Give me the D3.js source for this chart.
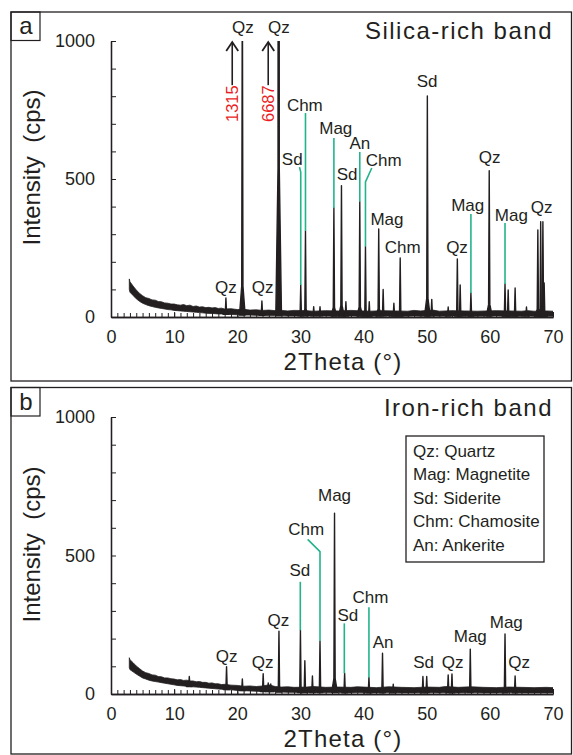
<!DOCTYPE html>
<html>
<head>
<meta charset="utf-8">
<script src="https://cdn.jsdelivr.net/npm/d3@7"></script>
<style>
body { margin: 0; background: #fff; }
text { font-family: "Liberation Sans", Arial, sans-serif; fill: #231f20; }
</style>
</head>
<body>
<div id="chart"></div>
<script>
// 2theta axis and intensity axis
var thetaTicks = [0, 10, 20, 30, 40, 50, 60, 70];
var intensityLabels = [0, 500, 1000];
var legendItems = ["Qz: Quartz", "Mag: Magnetite", "Sd: Siderite", "Chm: Chamosite", "An: Ankerite"];

// panel a: background band [2theta, low, high] in cps
var bgA = [[2.9,100,138],[3.0,90,128],[3.5,78,112],[4.0,66,98],[4.5,57,86],[5.0,50,77],[5.5,45,70],[6.0,41,67],
  [6.5,38,62],[7.0,35,61],[7.5,33,56],[8.0,31,55],[8.5,29,51],[9.0,27,50],[9.5,26,47],[10.0,24,47],[10.5,23,44],
  [11.0,22,43],[11.5,21,45],[12.0,20,41],[12.5,19,43],[13.0,18,38],[13.5,17,40],[14.0,16,36],[14.5,15,37],
  [15.0,14,34],[15.5,13,35],[16.0,13,33],[16.5,12,34],[17.0,11,31],[17.5,11,32],[18.0,10,29],[19.0,9,30],
  [20.0,8,27],[21.0,7,28],[22.0,7,25],[23.0,6,26],[24.0,6,24],[25.0,5,25],[26.0,5,23],[27.0,5,24],[28.0,4,22],
  [29.0,4,24],[31.0,4,23],[32.0,4,21],[34.0,4,23],[36.0,3,22],[38.0,4,24],[41.0,3,21],[43.0,4,23],[45.0,3,22],
  [47.0,3,21],[48.0,4,24],[49.0,3,22],[51.0,4,25],[52.0,3,21],[54.0,4,23],[56.0,3,22],[58.0,3,21],[61.0,4,23],
  [63.0,3,22],[65.0,3,21],[66.0,4,23],[67.0,3,21],[69.0,3,22],[70.0,3,21]];
// panel a: peaks [2theta, cps]
var peaksA = [[18.2,69],[20.8,1315],[23.9,58],[26.55,6687],[30.05,116],[30.8,312],[32.1,37],[33.1,37],
  [35.3,395],[36.5,476],[37.2,55],[39.4,418],[40.3,255],[40.9,55],[42.4,319],[43.1,100],[44.8,50],[45.8,214],
  [50.1,801],[50.8,64],[53.4,36],[54.85,210],[55.3,116],[57.0,87],[59.9,530],[62.4,120],[62.9,98],[64.0,105],
  [65.8,36],[67.6,315],[68.05,345],[68.4,345],[68.6,123]];
// panel a: labels [text, 2theta, cps]
var labelsA = [["Qz",20.9,1029],["Qz",26.6,1029],["Qz",18.2,87],["Qz",24.0,87],["Sd",28.7,551],["Chm",30.7,746],
  ["Mag",35.6,663],["An",39.4,609],["Sd",37.4,496],["Chm",43.2,547],["Mag",43.7,333],["Chm",46.2,233],
  ["Sd",50.05,833],["Qz",54.8,233],["Mag",56.5,385],["Qz",59.95,559],["Mag",63.4,348],["Qz",68.2,377]];
var leadersA = [[[29.85,543],[30.05,525],[30.05,116]], [[30.8,739],[30.8,312]], [[35.3,649],[35.3,395]],
  [[39.4,598],[39.4,418]], [[41.3,540],[40.3,489],[40.3,255]], [[57.0,373],[57.0,87]], [[62.4,341],[62.4,120]]];
var arrowsA = [[19.2,"1315"],[24.9,"6687"]];

// panel b
var bgB = [[2.9,95,131],[3.0,88,124],[3.5,80,113],[4.0,72,101],[4.5,65,92],[5.0,58,83],[5.5,54,77],[6.0,50,74],
  [6.5,47,69],[7.0,45,68],[7.5,43,63],[8.0,41,62],[8.5,39,58],[9.0,37,58],[9.5,35,55],[10.0,33,54],[10.5,31,51],
  [11.0,30,52],[11.5,29,49],[12.0,28,50],[12.5,27,47],[13.0,26,47],[13.5,25,44],[14.0,24,45],[14.5,23,42],
  [15.0,22,42],[15.5,21,39],[16.0,20,40],[16.5,19,37],[17.0,18,37],[17.5,17,34],[18.0,16,35],[19.0,15,32],
  [20.0,13,31],[21.0,12,28],[22.0,11,29],[23.0,10,27],[24.0,9,29],[25.0,9,33],[26.0,8,27],[27.0,7,25],[28.0,6,26],
  [29.0,6,24],[31.0,5,25],[32.0,5,27],[34.0,5,24],[36.0,5,25],[38.0,4,24],[39.0,5,26],[41.0,4,24],[42.0,4,23],
  [44.0,5,26],[46.0,4,24],[48.0,4,23],[50.0,5,25],[52.0,4,24],[53.0,5,27],[55.0,4,24],[57.0,5,26],[59.0,4,24],
  [61.0,4,23],[63.0,5,25],[65.0,4,24],[67.0,4,23],[69.0,4,24],[70.0,4,23]];
var peaksB = [[12.4,63],[18.3,99],[20.8,54],[24.1,73],[24.9,40],[25.3,36],[26.6,227],[30.0,230],[30.7,120],
  [31.9,65],[33.1,191],[35.4,653],[37.0,75],[40.85,60],[43.0,147],[44.7,35],[49.4,63],[50.0,63],[53.4,69],
  [54.0,72],[56.9,162],[62.4,217],[64.0,65]];
var labelsB = [["Qz",18.3,117],["Qz",24.0,93],["Qz",26.5,247],["Sd",29.9,427],["Chm",30.9,574],["Mag",35.4,698],
  ["Sd",37.5,265],["Chm",41.1,330],["An",43.1,165],["Sd",49.5,95],["Qz",54.1,95],["Mag",56.9,189],
  ["Mag",62.6,237],["Qz",64.65,95]];
var leadersB = [[[29.98,405],[29.98,230]], [[31.15,558],[33.1,514],[33.1,191]], [[36.95,255],[36.95,75]],
  [[40.85,313],[40.85,60]]];

var ink = "#231f20", green = "#22b38b", red = "#ec1c24";

var svg = d3.select("#chart").append("svg")
    .attr("width", 573)
    .attr("height", 755);

var x = d3.scaleLinear().domain([0, 70]).range([111, 553]);

var panels = [
    { id: "a", letter: "a", title: "Silica-rich band", top: 12, bottom: 381, y0: 317, y1: 41, titleY: 39,
      yTitle: 167.5, bg: bgA, peaks: peaksA, labels: labelsA, leaders: leadersA, arrows: arrowsA },
    { id: "b", letter: "b", title: "Iron-rich band", top: 387.5, bottom: 754, y0: 694, y1: 417, titleY: 416,
      yTitle: 544.5, bg: bgB, peaks: peaksB, labels: labelsB, leaders: leadersB, arrows: [] }
];

panels.forEach(function (p) {
    var y = d3.scaleLinear().domain([0, 1000]).range([p.y0, p.y1]);
    var g = svg.append("g");

    // frame and letter box
    g.append("rect")
        .attr("x", 11).attr("y", p.top)
        .attr("width", 560.5).attr("height", p.bottom - p.top)
        .attr("fill", "none").attr("stroke", ink).attr("stroke-width", 1.3);
    g.append("rect")
        .attr("x", 11).attr("y", p.top)
        .attr("width", 29).attr("height", 28.5)
        .attr("fill", "none").attr("stroke", ink).attr("stroke-width", 1.2);
    g.append("text")
        .attr("x", 26).attr("y", p.top + 22)
        .attr("text-anchor", "middle")
        .attr("font-size", 24)
        .text(p.letter);

    g.append("text")
        .attr("x", 553).attr("y", p.titleY)
        .attr("text-anchor", "end")
        .attr("font-size", 24)
        .attr("letter-spacing", 1.5)
        .text(p.title);

    // spectrum, clipped at 1000 cps
    svg.append("clipPath").attr("id", "clip" + p.id)
        .append("rect")
        .attr("x", x(0)).attr("y", y(1000))
        .attr("width", x(70) - x(0)).attr("height", y(0) - y(1000) + 2);
    var plot = g.append("g").attr("clip-path", "url(#clip" + p.id + ")");

    var base = d3.scaleLinear()
        .domain(p.bg.map(function (d) { return d[0]; }))
        .range(p.bg.map(function (d) { return d[1]; }))
        .clamp(true);

    plot.append("path")
        .datum(p.bg)
        .attr("d", d3.area()
            .x(function (d) { return x(d[0]); })
            .y0(function (d) { return y(d[1]); })
            .y1(function (d) { return y(d[2]); }))
        .attr("fill", ink)
        .attr("stroke", ink)
        .attr("stroke-width", 0.8);

    plot.selectAll("path.peak")
        .data(p.peaks)
        .join("path")
        .attr("class", "peak")
        .attr("d", function (d) {
            var b = base(d[0]);
            var mid = b + (d[1] - b) * 0.08;
            return "M" + x(d[0] - 0.45) + "," + y(b) +
                "L" + x(d[0] - 0.1) + "," + y(mid) +
                "L" + x(d[0]) + "," + y(d[1]) +
                "L" + x(d[0] + 0.1) + "," + y(mid) +
                "L" + x(d[0] + 0.45) + "," + y(b) + "Z";
        })
        .attr("fill", ink)
        .attr("stroke", ink)
        .attr("stroke-width", 1.4)
        .attr("stroke-linejoin", "round");

    // green leader lines
    var line = d3.line()
        .x(function (d) { return x(d[0]); })
        .y(function (d) { return y(d[1]); });
    g.selectAll("path.leader")
        .data(p.leaders)
        .join("path")
        .attr("class", "leader")
        .attr("d", line)
        .attr("fill", "none")
        .attr("stroke", green)
        .attr("stroke-width", 1.6);

    g.selectAll("text.peakLabel")
        .data(p.labels)
        .join("text")
        .attr("class", "peakLabel")
        .attr("x", function (d) { return x(d[1]); })
        .attr("y", function (d) { return y(d[2]); })
        .attr("text-anchor", "middle")
        .attr("font-size", 17)
        .text(function (d) { return d[0]; });

    // off-scale arrows
    p.arrows.forEach(function (a) {
        var ax = x(a[0]);
        g.append("line")
            .attr("x1", ax).attr("x2", ax)
            .attr("y1", y(840)).attr("y2", y(1000) + 1)
            .attr("stroke", ink).attr("stroke-width", 1.6);
        g.append("polyline")
            .attr("points", [[ax - 6, y(1000) + 10], [ax, y(1000) + 1], [ax + 6, y(1000) + 10]].join(" "))
            .attr("fill", "none").attr("stroke", ink).attr("stroke-width", 1.8);
        g.append("text")
            .attr("transform", "translate(" + (ax + 6) + "," + y(773) + ") rotate(-90)")
            .attr("text-anchor", "middle")
            .attr("font-size", 16.5)
            .style("fill", red)
            .text(a[1]);
    });

    // axes
    var xMinor = g.append("g")
        .attr("transform", "translate(0," + p.y0 + ")")
        .call(d3.axisBottom(x).tickValues(d3.range(0, 71)).tickSize(-4).tickSizeOuter(0).tickFormat(""));
    var xMajor = g.append("g")
        .attr("transform", "translate(0," + p.y0 + ")")
        .call(d3.axisBottom(x).tickValues(thetaTicks).tickSize(-5).tickSizeOuter(0).tickPadding(13));
    var yMinor = g.append("g")
        .attr("transform", "translate(" + x(0) + ",0)")
        .call(d3.axisLeft(y).tickValues(d3.range(0, 1001, 100)).tickSize(-5).tickSizeOuter(0).tickFormat(""));
    var yMajor = g.append("g")
        .attr("transform", "translate(" + x(0) + ",0)")
        .call(d3.axisLeft(y).tickValues(intensityLabels).tickFormat(d3.format("d"))
            .tickSize(0).tickSizeOuter(0).tickPadding(16));

    [xMinor, xMajor, yMinor, yMajor].forEach(function (ax) {
        ax.attr("font-size", 18).attr("font-family", null);
        ax.selectAll(".domain").attr("stroke", ink).attr("stroke-width", 1.3);
        ax.selectAll(".tick line").attr("stroke", ink).attr("stroke-width", 1);
    });

    g.append("text")
        .attr("x", 343).attr("y", p.y0 + 53)
        .attr("text-anchor", "middle")
        .attr("font-size", 24)
        .attr("letter-spacing", 1.2)
        .text("2Theta (°)");

    g.append("text")
        .attr("transform", "translate(40," + p.yTitle + ") rotate(-90)")
        .attr("text-anchor", "middle")
        .attr("font-size", 24)
        .text("Intensity\u00a0\u00a0(cps)");
});

// legend in panel b
var legend = svg.append("g");
legend.append("rect")
    .attr("x", 406).attr("y", 436)
    .attr("width", 138).attr("height", 126)
    .attr("fill", "#fff").attr("stroke", ink).attr("stroke-width", 1.3);
legend.selectAll("text")
    .data(legendItems)
    .join("text")
    .attr("x", 413)
    .attr("y", function (d, i) { return 457 + i * 23.4; })
    .attr("font-size", 17)
    .text(function (d) { return d; });
</script>
</body>
</html>
